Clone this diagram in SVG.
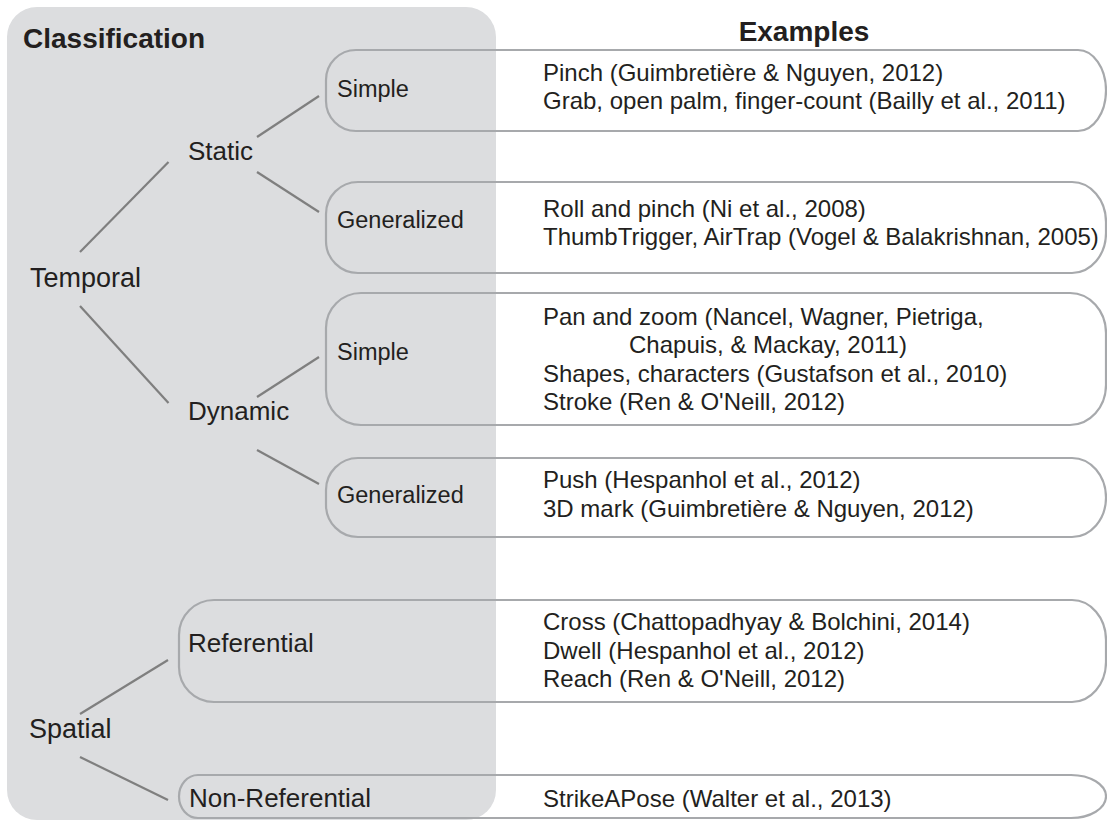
<svg xmlns="http://www.w3.org/2000/svg" width="1107" height="823" viewBox="0 0 1107 823">
  <style>
    text { font-family: "Liberation Sans", Arial, Helvetica, sans-serif; fill: #231f20; }
    .head { font-size: 28px; font-weight: bold; }
    .l1 { font-size: 27px; }
    .l2 { font-size: 26px; }
    .l3 { font-size: 23.5px; }
    .ex { font-size: 24px; }
    .pill { fill: none; stroke: #a7a9ac; stroke-width: 2.2; }
    .link { stroke: #7f7f7f; stroke-width: 2.2; fill: none; }
  </style>

  <rect x="0" y="0" width="1107" height="823" fill="#ffffff"/>

  <!-- classification panel -->
  <rect id="panel" x="7" y="7" width="489" height="813" rx="30" ry="30" fill="#dcdddf"/>

  <text class="head" x="23" y="48">Classification</text>
  <text class="head" x="804" y="41" text-anchor="middle">Examples</text>

  <!-- connectors -->
  <g id="connectors">
    <line class="link" x1="80" y1="252" x2="168.5" y2="162"/>
    <line class="link" x1="257" y1="137" x2="319" y2="96"/>
    <line class="link" x1="257" y1="172" x2="319" y2="212"/>
    <line class="link" x1="80" y1="306" x2="168.5" y2="403"/>
    <line class="link" x1="257" y1="397" x2="319" y2="357"/>
    <line class="link" x1="257" y1="450" x2="319" y2="484"/>
    <line class="link" x1="80" y1="714" x2="168" y2="660"/>
    <line class="link" x1="80" y1="757" x2="168" y2="800"/>
  </g>

  <!-- top-level categories -->
  <g id="temporal"><text class="l1" x="30" y="287">Temporal</text></g>
  <g id="spatial"><text class="l1" x="29" y="738">Spatial</text></g>

  <!-- second-level categories -->
  <g id="static"><text class="l2" x="188" y="160">Static</text></g>
  <g id="dynamic"><text class="l2" x="188" y="420">Dynamic</text></g>

  <!-- static / simple -->
  <g id="static-simple">
    <path class="pill" d="M356,50 H1078 A28,40.5 0 0 1 1106,90.5 A28,40.5 0 0 1 1078,131 H356 A30,30 0 0 1 326,101 V80 A30,30 0 0 1 356,50 Z"/>
    <text class="l3" x="337" y="97">Simple</text>
    <text class="ex" x="543" y="81">Pinch (Guimbretière &amp; Nguyen, 2012)</text>
    <text class="ex" x="543" y="109">Grab, open palm, finger-count (Bailly et al., 2011)</text>
  </g>

  <!-- static / generalized -->
  <g id="static-generalized">
    <path class="pill" d="M358,182 H1072 A34,40 0 0 1 1106,222 V233 A34,40 0 0 1 1072,273 H358 A32,32 0 0 1 326,241 V214 A32,32 0 0 1 358,182 Z"/>
    <text class="l3" x="337" y="228">Generalized</text>
    <text class="ex" x="543" y="217">Roll and pinch (Ni et al., 2008)</text>
    <text class="ex" x="543" y="245">ThumbTrigger, AirTrap (Vogel &amp; Balakrishnan, 2005)</text>
  </g>

  <!-- dynamic / simple -->
  <g id="dynamic-simple">
    <path class="pill" d="M361,293 H1070 A36,40 0 0 1 1106,333 V385 A36,40 0 0 1 1070,425 H361 A35,35 0 0 1 326,390 V328 A35,35 0 0 1 361,293 Z"/>
    <text class="l3" x="337" y="360">Simple</text>
    <text class="ex" x="543" y="325">Pan and zoom (Nancel, Wagner, Pietriga,</text>
    <text class="ex" x="629" y="353">Chapuis, &amp; Mackay, 2011)</text>
    <text class="ex" x="543" y="382">Shapes, characters (Gustafson et al., 2010)</text>
    <text class="ex" x="543" y="410">Stroke (Ren &amp; O'Neill, 2012)</text>
  </g>

  <!-- dynamic / generalized -->
  <g id="dynamic-generalized">
    <path class="pill" d="M358,458 H1072 A34,39.5 0 0 1 1106,497.5 A34,39.5 0 0 1 1072,537 H358 A32,32 0 0 1 326,505 V490 A32,32 0 0 1 358,458 Z"/>
    <text class="l3" x="337" y="503">Generalized</text>
    <text class="ex" x="543" y="488">Push (Hespanhol et al., 2012)</text>
    <text class="ex" x="543" y="517">3D mark (Guimbretière &amp; Nguyen, 2012)</text>
  </g>

  <!-- spatial / referential -->
  <g id="referential">
    <path class="pill" d="M214,600 H1072 A34,40 0 0 1 1106,640 V662 A34,40 0 0 1 1072,702 H214 A35,35 0 0 1 179,667 V635 A35,35 0 0 1 214,600 Z"/>
    <text class="l2" x="188" y="652">Referential</text>
    <text class="ex" x="543" y="630">Cross (Chattopadhyay &amp; Bolchini, 2014)</text>
    <text class="ex" x="543" y="659">Dwell (Hespanhol et al., 2012)</text>
    <text class="ex" x="543" y="687">Reach (Ren &amp; O'Neill, 2012)</text>
  </g>

  <!-- spatial / non-referential -->
  <g id="non-referential">
    <path class="pill" d="M198,775 H1071 A35,21.5 0 0 1 1071,818 H198 A19,21.5 0 0 1 198,775 Z"/>
    <text class="l2" x="189" y="807">Non-Referential</text>
    <text class="ex" x="543" y="807">StrikeAPose (Walter et al., 2013)</text>
  </g>
</svg>
